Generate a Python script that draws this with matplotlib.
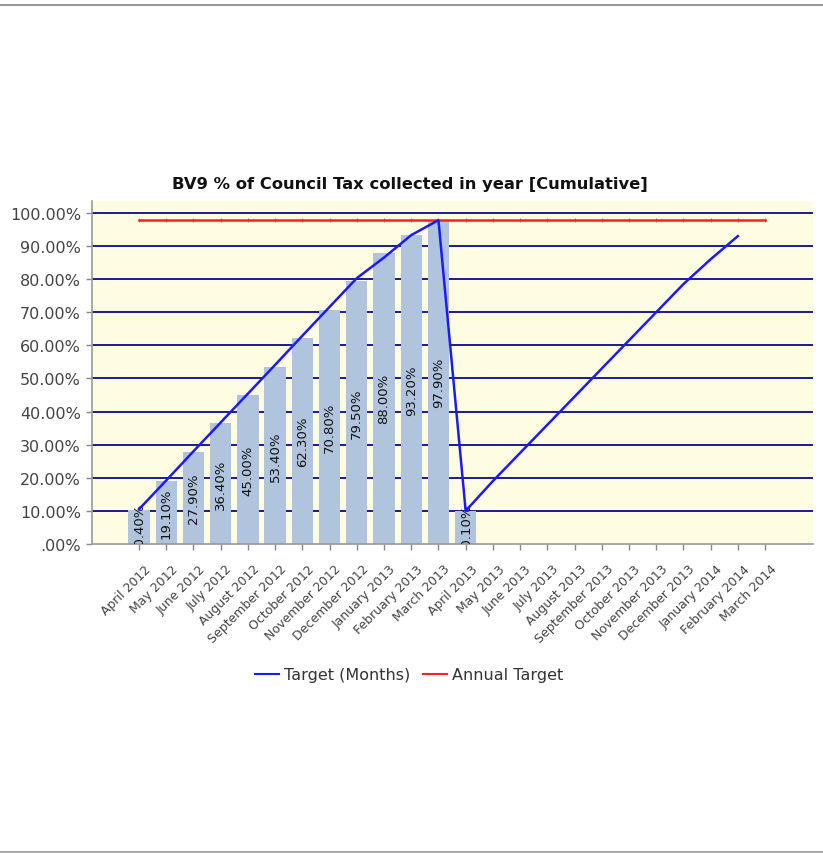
import matplotlib
matplotlib.use("Agg")
import matplotlib.pyplot as plt
import matplotlib.transforms as mtransforms
from matplotlib.lines import Line2D

months = ["April 2012", "May 2012", "June 2012", "July 2012", "August 2012",
          "September 2012", "October 2012", "November 2012", "December 2012",
          "January 2013", "February 2013", "March 2013", "April 2013", "May 2013",
          "June 2013", "July 2013", "August 2013", "September 2013", "October 2013",
          "November 2013", "December 2013", "January 2014", "February 2014", "March 2014"]

actual = [10.40, 19.10, 27.90, 36.40, 45.00, 53.40, 62.30, 70.80, 79.50, 88.00,
          93.20, 97.90, 10.10]

target_months = [10.5, 19.2, 28.0, 36.7, 45.4, 54.1, 62.9, 71.6, 80.3, 86.5, 93.3, 97.8,
                 10.0, 19.0, 27.5, 36.0, 44.5, 53.0, 61.5, 70.0, 78.5, 86.0, 93.0]

annual_target = [98.0] * 24

yticks = [0, 10, 20, 30, 40, 50, 60, 70, 80, 90, 100]
ytick_labels = [".00%", "10.00%", "20.00%", "30.00%", "40.00%", "50.00%",
                "60.00%", "70.00%", "80.00%", "90.00%", "100.00%"]

fig = plt.figure(figsize=(8.23, 8.54), dpi=100)
ax = fig.add_axes([92/823, 1-545/854, (813-92)/823, (545-202)/854])
ax.set_facecolor("#FFFDE1")

xs = list(range(len(months)))
ax.set_xlim(-1.727, 24.76)
ax.set_ylim(0, 103.6)

for y in yticks[1:]:
    ax.axhline(y, color="#1a1a8c", lw=1.4, zorder=1)

bars = ax.bar(xs[:len(actual)], actual, width=0.78, color="#B0C4DE", zorder=2)
for x, v in zip(xs, actual):
    ax.text(x, v/2, f"{v:.2f}%", rotation=90, ha="center", va="center",
            fontsize=9.5, color="#111111", zorder=3, clip_on=True)

ax.plot(xs[:len(annual_target)], annual_target, color="#FF2020", lw=1.8,
        marker="|", markersize=2.5, markeredgewidth=0.5, zorder=4)
ax.plot(xs[:len(target_months)], target_months, color="#1a1aff", lw=1.8, zorder=5)

ax.set_yticks(yticks)
ax.set_yticklabels(ytick_labels, fontsize=11.5, color="#444444")
ax.set_xticks(xs)
ax.set_xticklabels(months, rotation=45, ha="right", rotation_mode="anchor",
                   fontsize=9, color="#444444")
ax.tick_params(axis="both", length=4, color="#888888", width=1)
ax.tick_params(axis="x", pad=9)
ax.tick_params(axis="y", pad=4)

offset = mtransforms.ScaledTranslation(5/100, 0, fig.dpi_scale_trans)
for lab in ax.get_xticklabels():
    lab.set_transform(lab.get_transform() + offset)

for s in ["top", "right"]:
    ax.spines[s].set_visible(False)
for s in ["left", "bottom"]:
    ax.spines[s].set_color("#999999")
    ax.spines[s].set_linewidth(1.2)

fig.text(0.498, 1-184/854, "BV9 % of Council Tax collected in year [Cumulative]",
         ha="center", va="center", fontsize=11.8, fontweight="bold", color="#111111")

handles = [Line2D([], [], color="#1a1aff", lw=1.5),
           Line2D([], [], color="#FF2020", lw=1.5)]
fig.legend(handles, ["Target (Months)", "Annual Target"], loc="center",
           bbox_to_anchor=(0.497, 1-676/854), ncol=2, frameon=False,
           fontsize=11.5, handlelength=1.5, handletextpad=0.3, columnspacing=0.8,
           labelcolor="#333333")

fig.add_artist(Line2D([0, 1], [1-5.5/854, 1-5.5/854], transform=fig.transFigure,
                      color="#999999", lw=1.5))
fig.add_artist(Line2D([0, 1], [1-852.5/854, 1-852.5/854], transform=fig.transFigure,
                      color="#aaaaaa", lw=1.5))

fig.savefig("out.png", dpi=100, facecolor="white")
